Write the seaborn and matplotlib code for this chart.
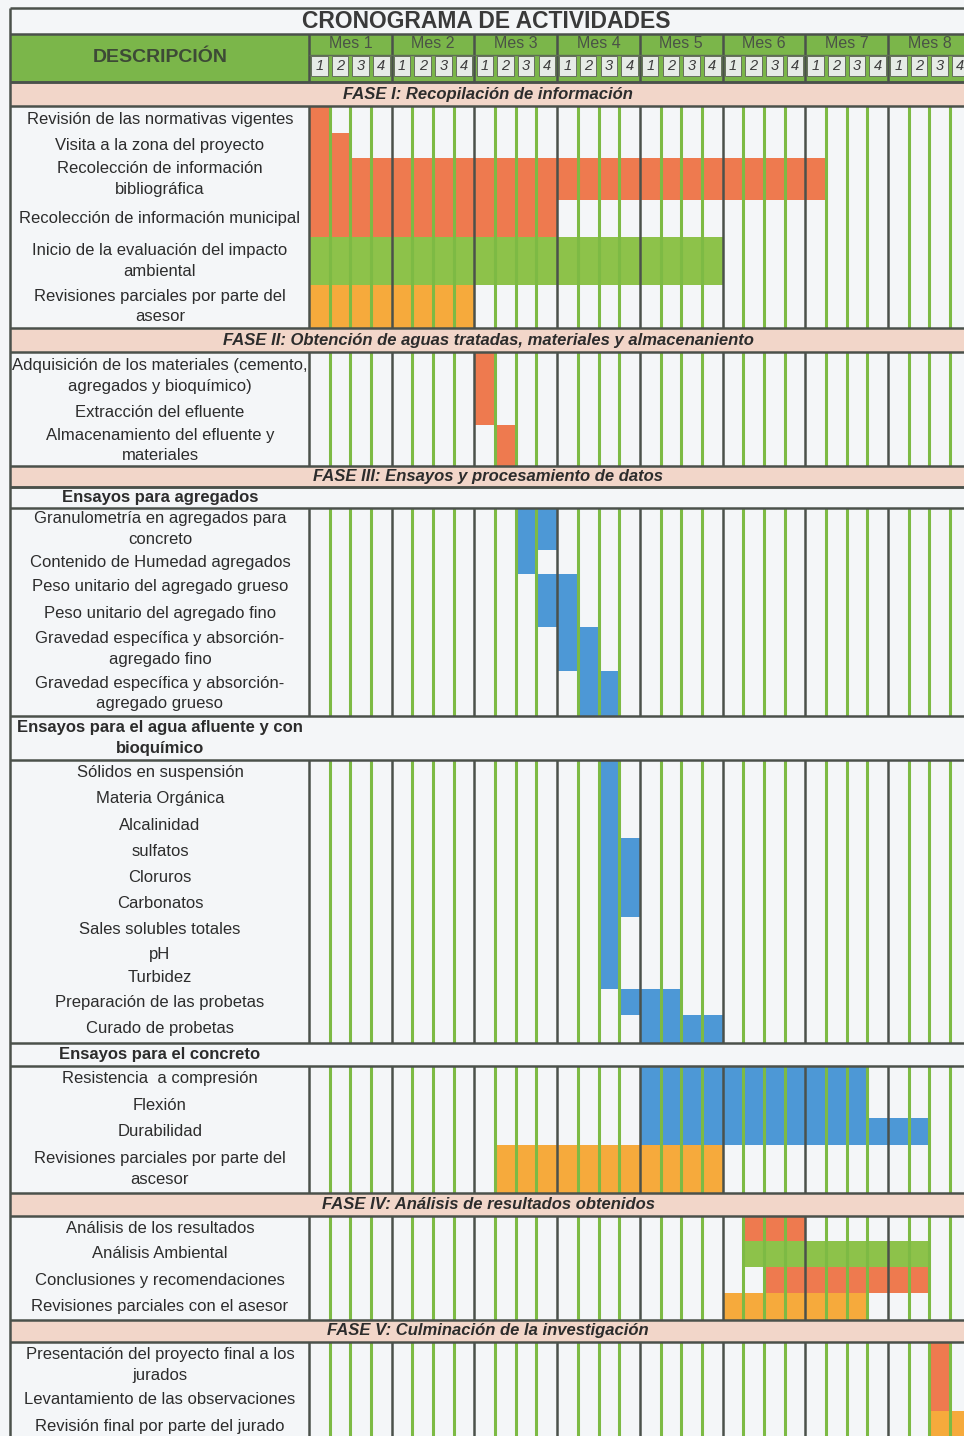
import matplotlib
matplotlib.use("Agg")
import matplotlib.pyplot as plt
from matplotlib.patches import Rectangle
import numpy as np
import pandas as pd
import seaborn as sns

# ---- data -----------------------------------------------------------------
TITULO = "CRONOGRAMA DE ACTIVIDADES"
CABECERA = "DESCRIPCIÓN"
MESES = ["Mes 1", "Mes 2", "Mes 3", "Mes 4", "Mes 5", "Mes 6", "Mes 7", "Mes 8"]
SEMANAS = ["1", "2", "3", "4"]

FASES = [
    "FASE I: Recopilación de información",
    "FASE II: Obtención de aguas tratadas, materiales y almacenaniento",
    "FASE III: Ensayos y procesamiento de datos",
    "FASE IV: Análisis de resultados obtenidos",
    "FASE V: Culminación de la investigación",
]
SUBGRUPOS = [
    "Ensayos para agregados",
    "Ensayos para el agua afluente y con\nbioquímico",
    "Ensayos para el concreto",
]

F1_TAREAS = [
    "Revisión de las normativas vigentes",
    "Visita a la zona del proyecto",
    "Recolección de información\nbibliográfica",
    "Recolección de información municipal",
    "Inicio de la evaluación del impacto\nambiental",
    "Revisiones parciales por parte del\nasesor",
]
F1_INICIO = [1, 1, 1, 1, 1, 1]
F1_FIN = [1, 2, 25, 12, 20, 8]
F1_COLOR = ["rojo", "rojo", "rojo", "rojo", "verde", "amarillo"]

F2_TAREAS = [
    "Adquisición de los materiales (cemento,\nagregados y bioquímico)",
    "Extracción del efluente",
    "Almacenamiento del efluente y\nmateriales",
]
F2_INICIO = [9, 9, 10]
F2_FIN = [9, 9, 10]
F2_COLOR = ["rojo", "rojo", "rojo"]

AGR_TAREAS = [
    "Granulometría en agregados para\nconcreto",
    "Contenido de Humedad agregados",
    "Peso unitario del agregado grueso",
    "Peso unitario del agregado fino",
    "Gravedad específica y absorción-\nagregado fino",
    "Gravedad específica y absorción-\nagregado grueso",
]
AGR_INICIO = [11, 11, 12, 12, 13, 14]
AGR_FIN = [12, 11, 13, 13, 14, 15]
AGR_COLOR = ["azul"] * 6

AGUA_TAREAS = [
    "Sólidos en suspensión", "Materia Orgánica", "Alcalinidad", "sulfatos",
    "Cloruros", "Carbonatos", "Sales solubles totales", "pH", "Turbidez",
    "Preparación de las probetas", "Curado de probetas",
]
AGUA_INICIO = [15, 15, 15, 15, 15, 15, 15, 15, 15, 16, 17]
AGUA_FIN = [15, 15, 15, 16, 16, 16, 15, 15, 15, 18, 20]
AGUA_COLOR = ["azul"] * 11

CONC_TAREAS = [
    "Resistencia  a compresión",
    "Flexión",
    "Durabilidad",
    "Revisiones parciales por parte del\nascesor",
]
CONC_INICIO = [17, 17, 17, 10]
CONC_FIN = [27, 27, 30, 20]
CONC_COLOR = ["azul", "azul", "azul", "amarillo"]

F4_TAREAS = [
    "Análisis de los resultados",
    "Análisis Ambiental",
    "Conclusiones y recomendaciones",
    "Revisiones parciales con el asesor",
]
F4_INICIO = [22, 22, 23, 21]
F4_FIN = [24, 30, 30, 27]
F4_COLOR = ["rojo", "verde", "rojo", "amarillo"]

F5_TAREAS = [
    "Presentación del proyecto final a los\njurados",
    "Levantamiento de las observaciones",
    "Revisión final por parte del jurado",
]
F5_INICIO = [31, 31, 31]
F5_FIN = [31, 31, 32]
F5_COLOR = ["rojo", "rojo", "amarillo"]

# ---- layout (row heights in pixels) and styles -------------------------------
ALTO_F1 = [27, 25, 42, 37, 48, 43]
ALTO_F2 = [48, 25, 41]
ALTO_AGR = [42, 24, 26, 27, 44, 45]
ALTO_AGUA = [26, 26, 26, 26, 26, 27, 26, 23, 23, 26, 28]
ALTO_CONC = [26, 26, 27, 48]
ALTO_F4 = [25, 26, 26, 27]
ALTO_F5 = [46, 23, 30]

PALETA = {"rojo": "#EE7A4F", "verde": "#8DC24A", "amarillo": "#F6AA3C", "azul": "#4D98D6"}
FONDO = "#F4F6F8"
ROSA = "#F2D6C9"
VERDE_CAB = "#7BB64A"
VERDE_LIN = "#7DBA44"
OSCURO = "#4B514B"
TEXTO = "#2c2c2c"

W, H = 964, 1436
PX_SEMANA = 20.68
X_COL = 309  # pixel where week 0 starts


def px(p):
    return (p - X_COL) / PX_SEMANA


sns.set_theme(style="white")
plt.rcParams["font.family"] = ["Liberation Sans", "DejaVu Sans"]
NARROW = ["Liberation Sans Narrow", "Liberation Sans", "DejaVu Sans"]

# ---- assemble table rows ---------------------------------------------------
filas = []


def add_fase(texto, alto):
    filas.append(dict(tipo="fase", texto=texto, alto=alto))


def add_sub(texto, alto):
    filas.append(dict(tipo="sub", texto=texto, alto=alto))


def add_tareas(tareas, inicio, fin, color, alto):
    for t, a, b, c, h in zip(tareas, inicio, fin, color, alto):
        filas.append(dict(tipo="tarea", texto=t, alto=h, inicio=a, fin=b, color=c))


add_fase(FASES[0], 24)
add_tareas(F1_TAREAS, F1_INICIO, F1_FIN, F1_COLOR, ALTO_F1)
add_fase(FASES[1], 24)
add_tareas(F2_TAREAS, F2_INICIO, F2_FIN, F2_COLOR, ALTO_F2)
add_fase(FASES[2], 21)
add_sub(SUBGRUPOS[0], 21)
add_tareas(AGR_TAREAS, AGR_INICIO, AGR_FIN, AGR_COLOR, ALTO_AGR)
add_sub(SUBGRUPOS[1], 44)
add_tareas(AGUA_TAREAS, AGUA_INICIO, AGUA_FIN, AGUA_COLOR, ALTO_AGUA)
add_sub(SUBGRUPOS[2], 23)
add_tareas(CONC_TAREAS, CONC_INICIO, CONC_FIN, CONC_COLOR, ALTO_CONC)
add_fase(FASES[3], 23)
add_tareas(F4_TAREAS, F4_INICIO, F4_FIN, F4_COLOR, ALTO_F4)
add_fase(FASES[4], 22)
add_tareas(F5_TAREAS, F5_INICIO, F5_FIN, F5_COLOR, ALTO_F5)

df = pd.DataFrame(filas)
df["top"] = 82 + df["alto"].cumsum() - df["alto"]
df["bottom"] = df["top"] + df["alto"]
df["centro"] = df["top"] + df["alto"] / 2

# contiguous task blocks
df["bloque"] = (df["tipo"] != "tarea").cumsum()
bloques = df[df["tipo"] == "tarea"].groupby("bloque").agg(top=("top", "min"), bottom=("bottom", "max"))

# ---- figure ----------------------------------------------------------------
fig = plt.figure(figsize=(W / 100, H / 100), dpi=100)
fig.patch.set_facecolor(FONDO)
ax = fig.add_axes([0, 0, 1, 1])
ax.set_facecolor(FONDO)
ax.set_xlim(px(0), px(W))
ax.set_ylim(H, 0)
ax.axis("off")

XL = px(10)   # outer left border
XR = px(W + 5)
n_sem = len(MESES) * len(SEMANAS)

# title
ax.text(px(486), 21.5, TITULO, ha="center", va="center", fontsize=16.5, fontweight="bold",
        family=NARROW, color="#3a3a3a")

# header
ax.add_patch(Rectangle((XL, 34), XR - XL, 48, facecolor=VERDE_CAB, edgecolor="none", zorder=1))
ax.text(px(160), 58, CABECERA, ha="center", va="center", fontsize=14, fontweight="bold",
        family=NARROW, color="#3d4a36")
for m, mes in enumerate(MESES):
    ax.text(m * 4 + 2, 44, mes, ha="center", va="center", fontsize=11.5, family=NARROW,
            color="#4a5346", zorder=3)
for k in range(n_sem):
    ax.add_patch(Rectangle((k + 0.1, 56), 0.8, 20, facecolor="#E6EBE6", edgecolor="#66705f",
                           lw=0.7, zorder=2))
    ax.text(k + 0.5, 66.5, SEMANAS[k % 4], ha="center", va="center", fontsize=10.5,
            style="italic", color="#3c3c3c", zorder=3)
ax.vlines(np.arange(0, n_sem + 1, 4), 34, 82, colors=OSCURO, lw=1.8, zorder=3)
ax.hlines(54.5, 0, XR, colors="#5f6e55", lw=1.0, zorder=3)
ax.hlines([8, 34, 82], XL, XR, colors=OSCURO, lw=1.8, zorder=4)
ax.vlines(XL, 8, H, colors=OSCURO, lw=1.8, zorder=4)

# phase bands and sub-group rows
for _, r in df[df["tipo"] == "fase"].iterrows():
    ax.add_patch(Rectangle((XL, r["top"]), XR - XL, r["alto"], facecolor=ROSA,
                           edgecolor="none", zorder=1))
    ax.text(px(488), r["centro"], r["texto"], ha="center", va="center", fontsize=12,
            fontweight="bold", style="italic", family=NARROW, color=TEXTO, zorder=3)
for _, r in df[df["tipo"] == "sub"].iterrows():
    ax.text(px(160), r["centro"], r["texto"], ha="center", va="center", fontsize=12,
            fontweight="bold", color=TEXTO, linespacing=1.42, zorder=3)
sep = df[df["tipo"] != "tarea"]
ax.hlines(np.concatenate([sep["top"], sep["bottom"]]), XL, XR, colors=OSCURO, lw=1.8, zorder=4)

# task bars
tareas = df[df["tipo"] == "tarea"]
ax.barh(tareas["centro"], tareas["fin"] - tareas["inicio"] + 1, left=tareas["inicio"] - 1,
        height=tareas["alto"], color=tareas["color"].map(PALETA), linewidth=0, zorder=2)
for _, r in tareas.iterrows():
    ax.text(px(160), r["centro"], r["texto"], ha="center", va="center", fontsize=12,
            color=TEXTO, linespacing=1.45, zorder=3)

# week grid inside each block
semanales = [k for k in range(1, n_sem) if k % 4]
mensuales = list(range(0, n_sem + 1, 4))
for _, b in bloques.iterrows():
    ax.vlines(semanales, b["top"], b["bottom"], colors=VERDE_LIN, lw=2.2, zorder=3)
    ax.vlines(mensuales, b["top"], b["bottom"], colors=OSCURO, lw=1.8, zorder=4)

fig.savefig("out.png", dpi=100, facecolor=FONDO)
